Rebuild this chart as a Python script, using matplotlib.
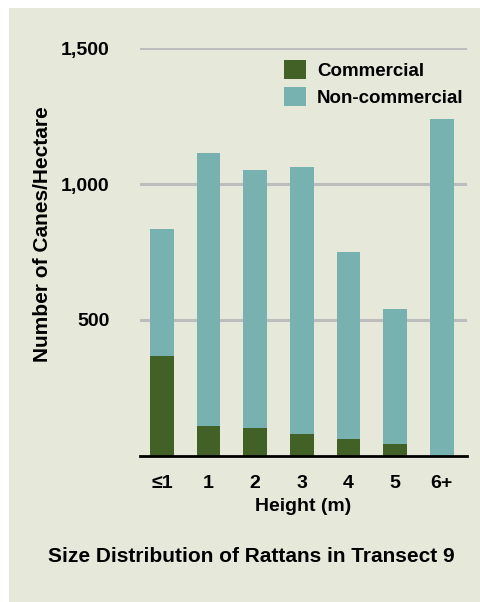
import matplotlib.pyplot as plt
from matplotlib.patches import Rectangle

# data
heights = ['≤1', '1', '2', '3', '4', '5', '6+']
commercial = [368, 110, 103, 81, 62, 44, 0]
total = [834, 1114, 1051, 1062, 750, 540, 1239]
non_commercial = [t - c for t, c in zip(total, commercial)]

green = '#426126'
teal = '#77b1b0'
bg = '#e6e9d9'

plt.rcParams['font.family'] = ['Liberation Sans', 'DejaVu Sans']
plt.rcParams['font.weight'] = 'bold'

W, H = 481, 602
fig = plt.figure(figsize=(W / 100, H / 100), dpi=100, facecolor='white')
# panel background (white strip left and top)
fig.patches.append(Rectangle((9 / W, 0), 1, (H - 8) / H, transform=fig.transFigure,
                             facecolor=bg, edgecolor='none', zorder=-5))

ax = fig.add_axes([140 / W, (H - 456) / H, 327 / W, 408 / H])
ax.set_facecolor('none')
x = range(len(heights))
ax.bar(x, commercial, width=0.51, color=green, label='Commercial', zorder=3)
ax.bar(x, non_commercial, width=0.51, bottom=commercial, color=teal,
       label='Non-commercial', zorder=3)

ax.set_xlim(-0.47, 6.54)
ax.set_ylim(0, 1500)
ax.set_yticks([500, 1000, 1500])
ax.set_yticklabels(['500', '1,000', '1,500'], fontsize=14)
ax.yaxis.grid(True, color='#bdbdbd', linewidth=2.2, zorder=1)
ax.set_xticks(list(x))
ax.set_xticklabels(heights, fontsize=14)
ax.tick_params(length=0, pad=14)
ax.tick_params(axis='y', pad=22)
for s in ['top', 'right', 'left']:
    ax.spines[s].set_visible(False)
ax.spines['bottom'].set_linewidth(2)
ax.spines['bottom'].set_zorder(4)

ax.set_xlabel('Height (m)', fontsize=14, fontweight='bold', labelpad=4)
fig.text(43 / W, 1 - 234 / H, 'Number of Canes/Hectare', rotation=90,
         ha='center', va='center', fontsize=15, fontweight='bold')

leg = ax.legend(loc='upper left', bbox_to_anchor=((284 - 140) / 327, 1 - (60 - 48) / 408),
                frameon=False, fontsize=13.5,
                handlelength=1.15, handleheight=1.15, handletextpad=0.6,
                labelspacing=0.4, borderaxespad=0, borderpad=0)
for t in leg.get_texts():
    t.set_fontweight('bold')

fig.text(251 / W, 1 - 557 / H, 'Size Distribution of Rattans in Transect 9',
         ha='center', va='center', fontsize=15, fontweight='bold')

fig.savefig('out.png', dpi=100, facecolor='white')
